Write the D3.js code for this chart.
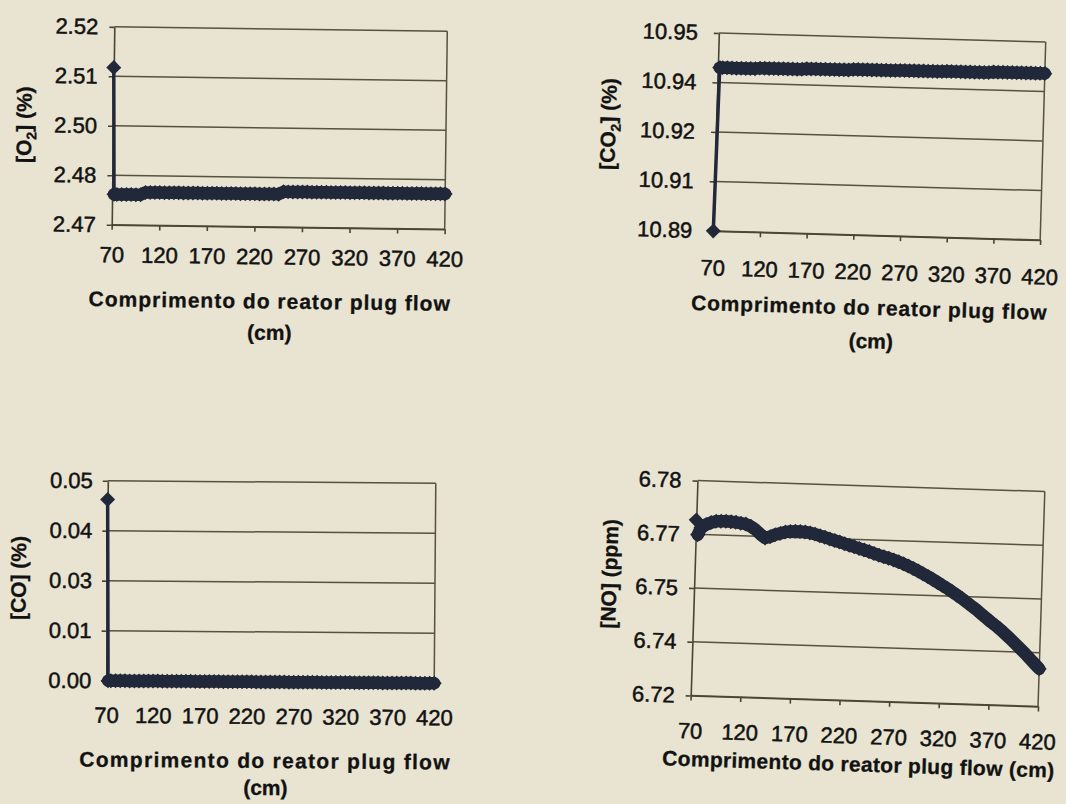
<!DOCTYPE html>
<html><head><meta charset="utf-8">
<script src="https://cdn.jsdelivr.net/npm/d3@7"></script>
<style>
html,body{margin:0;padding:0;background:#e8e4d1;}
svg{display:block;}
</style></head><body>
<svg id="c" width="1066" height="804"></svg>
<script>
// ---------- DATA ----------
const xCm = [70, 72, 75, 80, 85, 90, 95, 100, 105, 110, 115, 120, 125, 130, 135, 140, 145, 150, 155, 160,
  165, 170, 175, 180, 185, 190, 195, 200, 205, 210, 215, 220, 225, 230, 235, 240, 245, 250, 255, 260,
  265, 270, 275, 280, 285, 290, 295, 300, 305, 310, 315, 320, 325, 330, 335, 340, 345, 350, 355, 360,
  365, 370, 375, 380, 385, 390, 395, 400, 405, 410, 415, 420];
const xTicks = [70, 120, 170, 220, 270, 320, 370, 420];

const o2Values = [2.5097, 2.4777, 2.4777, 2.4777, 2.4777, 2.4777, 2.4777, 2.4777,
  2.4783, 2.4783, 2.4783, 2.4783, 2.4783, 2.4783, 2.4783, 2.4783, 2.4783, 2.4783,
  2.4783, 2.4783, 2.4783, 2.4783, 2.4783, 2.4783, 2.4783, 2.4783, 2.4783, 2.4783,
  2.4783, 2.4783, 2.4783, 2.4783, 2.4783, 2.4783, 2.4783, 2.4783, 2.4783,
  2.4789, 2.4789, 2.4789, 2.4789, 2.4789, 2.4789, 2.4789, 2.4789, 2.4789, 2.4789,
  2.4789, 2.4789, 2.4789, 2.4789, 2.4789, 2.4789, 2.4789, 2.4789, 2.4789, 2.4789,
  2.4789, 2.4789, 2.4789, 2.4789, 2.4789, 2.4789, 2.4789, 2.4789, 2.4789, 2.4789,
  2.4789, 2.4789, 2.4789, 2.4789, 2.4789, 2.4789];

const co2Values = [10.89, 10.9395, 10.9395, 10.9395, 10.9395, 10.9395, 10.9395, 10.9395, 10.9395, 10.9395,
  10.9397, 10.9397, 10.9397, 10.9397, 10.9397, 10.9397, 10.9397, 10.9397, 10.9397, 10.9397,
  10.9399, 10.9399, 10.9399, 10.9399, 10.9399, 10.9399, 10.9399, 10.9399, 10.9399, 10.9399,
  10.9401, 10.9401, 10.9401, 10.9401, 10.9401, 10.9401, 10.9401, 10.9401, 10.9401, 10.9401,
  10.9402, 10.9402, 10.9402, 10.9402, 10.9402, 10.9402, 10.9402, 10.9402, 10.9402, 10.9402,
  10.9403, 10.9403, 10.9403, 10.9403, 10.9403, 10.9403, 10.9403, 10.9403, 10.9403, 10.9403,
  10.9405, 10.9405, 10.9405, 10.9405, 10.9405, 10.9405, 10.9405, 10.9405, 10.9405, 10.9405,
  10.9405, 10.9405];

const coValues = [0.0453, 0, 0, 0, 0, 0, 0, 0, 0, 0, 0, 0, 0, 0, 0, 0, 0, 0, 0, 0,
  0, 0, 0, 0, 0, 0, 0, 0, 0, 0, 0, 0, 0, 0, 0, 0, 0, 0, 0, 0,
  0, 0, 0, 0, 0, 0, 0, 0, 0, 0, 0, 0, 0, 0, 0, 0, 0, 0, 0, 0,
  0, 0, 0, 0, 0, 0, 0, 0, 0, 0, 0, 0];

const noValues = [6.7690, 6.7649, 6.7668, 6.7678, 6.7684, 6.7688, 6.7689, 6.7689, 6.7688, 6.7687,
  6.7685, 6.7683, 6.7677, 6.7668, 6.7656, 6.7646, 6.7650, 6.7656, 6.7660, 6.7664,
  6.7666, 6.7667, 6.7667, 6.7666, 6.7664, 6.7661, 6.7657, 6.7653, 6.7649, 6.7645,
  6.7641, 6.7637, 6.7633, 6.7629, 6.7625, 6.7621, 6.7617, 6.7612, 6.7608, 6.7604,
  6.7600, 6.7596, 6.7591, 6.7586, 6.7580, 6.7574, 6.7567, 6.7560, 6.7553, 6.7545,
  6.7537, 6.7529, 6.7521, 6.7512, 6.7503, 6.7494, 6.7484, 6.7474, 6.7464, 6.7453,
  6.7442, 6.7431, 6.7421, 6.7410, 6.7398, 6.7386, 6.7373, 6.7360, 6.7347, 6.7333,
  6.7319, 6.7305];

const o2Ticks = [2.47, 2.4825, 2.495, 2.5075, 2.52];
const o2TickLabels = ["2.47", "2.48", "2.50", "2.51", "2.52"];
const co2Ticks = [10.89, 10.905, 10.92, 10.935, 10.95];
const co2TickLabels = ["10.89", "10.91", "10.92", "10.94", "10.95"];
const coTicks = [0, 0.0125, 0.025, 0.0375, 0.05];
const coTickLabels = ["0.00", "0.01", "0.03", "0.04", "0.05"];
const noTicks = [6.72, 6.735, 6.75, 6.765, 6.78];
const noTickLabels = ["6.72", "6.74", "6.75", "6.77", "6.78"];

const xTitleText = "Comprimento do reator plug flow";
const xTitleUnit = "(cm)";

// ---------- LAYOUT / STYLE ----------
const panels = [
  {values: o2Values, ticks: o2Ticks, labels: o2TickLabels,
   yTitle: [["[O", 0], ["2", 1], ["] (%)", -1]],
   xLines: [xTitleText, xTitleUnit], box: [113, 446, 29, 227], angle: 0.75,
   xBase: 37.5, tBase: [81.6, 113], tDx: [-7.5, -7.5], tSpace: 1.0, yPad: 11, yTitleX: -89, yTitleDy: 0},
  {values: co2Values, ticks: co2Ticks, labels: co2TickLabels,
   yTitle: [["[CO", 0], ["2", 1], ["] (%)", -1]],
   xLines: [xTitleText, xTitleUnit], box: [716, 1043, 37.5, 235.5], angle: 1.6,
   xBase: 44.5, tBase: [79.6, 113], tDx: [-5.5, -3], tSpace: 0.8, yPad: 16, yTitleX: -108, yTitleDy: -5},
  {values: coValues, ticks: coTicks, labels: coTickLabels,
   yTitle: [["[CO] (%)", 0]],
   xLines: [xTitleText, xTitleUnit], box: [107, 435, 482, 682], angle: 0.45,
   xBase: 42, tBase: [86, 113], tDx: [-4.5, -4], tSpace: 1.3, yPad: 10, yTitleX: -88.5, yTitleDy: -2},
  {values: noValues, ticks: noTicks, labels: noTickLabels,
   yTitle: [["[NO] (ppm)", 0]],
   xLines: [xTitleText + " " + xTitleUnit], box: [694, 1041.5, 486, 701], angle: 1.8,
   xBase: 43, tBase: [70.7], tDx: [-4], tSpace: 0.3, yPad: 11, yTitleX: -85, yTitleDy: -11.6}
];

const FONT = "'Liberation Sans', Arial, Helvetica, sans-serif";
const TEXT = "#121212";
const AXIS = "#4a4434";
const GRID = "#585140";
const SERIES = "#212839";

const svg = d3.select("#c");
svg.append("rect").attr("width", 1066).attr("height", 804).attr("fill", "#e8e4d1");

panels.forEach(p => {
  const [x0, x1, y0, y1] = p.box;
  const cx = (x0 + x1) / 2, cy = (y0 + y1) / 2;
  const g = svg.append("g").attr("transform", `rotate(${p.angle},${cx},${cy})`);

  const x = d3.scaleLinear().domain([70, 420]).range([x0, x1]);
  const y = d3.scaleLinear().domain([p.ticks[0], p.ticks[p.ticks.length - 1]]).range([y1, y0]);

  // grid lines
  g.append("g").selectAll("line").data(p.ticks).join("line")
    .attr("x1", x0).attr("x2", x1)
    .attr("y1", d => y(d)).attr("y2", d => y(d))
    .attr("stroke", GRID).attr("stroke-width", 1.5);
  // right border
  g.append("line").attr("x1", x1).attr("x2", x1).attr("y1", y0).attr("y2", y1)
    .attr("stroke", GRID).attr("stroke-width", 1.5);

  // y axis
  const ya = g.append("g").attr("transform", `translate(${x0},0)`)
    .call(d3.axisLeft(y).tickValues(p.ticks).tickFormat((d, i) => p.labels[i])
      .tickSize(5).tickSizeOuter(0).tickPadding(p.yPad));
  // x axis
  const xa = g.append("g").attr("transform", `translate(0,${y1})`)
    .call(d3.axisBottom(x).tickValues(xTicks).tickFormat(d3.format("d"))
      .tickSize(5).tickSizeOuter(0).tickPadding(p.xBase - 20.6));
  [ya, xa].forEach(a => {
    a.select(".domain").attr("stroke", AXIS).attr("stroke-width", 1.6);
    a.selectAll(".tick line").attr("stroke", AXIS).attr("stroke-width", 1.6);
    a.selectAll(".tick text").attr("fill", TEXT)
      .attr("stroke", TEXT).attr("stroke-width", 0.5)
      .style("font-family", FONT).style("font-size", "22px");
  });

  // series
  const pts = xCm.map((xv, i) => [xv, p.values[i]]);
  const line = d3.line().x(d => x(d[0])).y(d => y(d[1]));
  g.append("path").datum(pts)
    .attr("d", line)
    .attr("fill", "none").attr("stroke", SERIES).attr("stroke-width", 3.5);
  // dense band of overlapping markers
  g.append("path").datum(pts.slice(1))
    .attr("d", line)
    .attr("fill", "none").attr("stroke", SERIES).attr("stroke-width", 12.5)
    .attr("stroke-linejoin", "round").attr("stroke-linecap", "round");
  g.append("g").selectAll("path").data(pts).join("path")
    .attr("transform", d => `translate(${x(d[0])},${y(d[1])})`)
    .attr("d", "M0,-7.5L7.5,0L0,7.5L-7.5,0Z")
    .attr("fill", SERIES);

  // x title
  p.xLines.forEach((t, i) => {
    g.append("text").attr("x", cx + p.tDx[i]).attr("y", y1 + p.tBase[i])
      .attr("text-anchor", "middle").attr("fill", TEXT)
      .attr("stroke", TEXT).attr("stroke-width", 0.3)
      .style("font-family", FONT).style("font-weight", "bold").style("font-size", "21px")
      .style("letter-spacing", i === 0 ? p.tSpace + "px" : "0px")
      .text(t);
  });

  // y title
  const yt = g.append("text")
    .attr("transform", `translate(${x0 + p.yTitleX},${cy + p.yTitleDy}) rotate(-90)`)
    .attr("text-anchor", "middle").attr("dy", "0.35em").attr("fill", TEXT)
    .attr("stroke", TEXT).attr("stroke-width", 0.3)
    .style("font-family", FONT).style("font-weight", "bold").style("font-size", "21px");
  p.yTitle.forEach(([t, sub]) => {
    const ts = yt.append("tspan").text(t);
    if (sub === 1) ts.attr("dy", 5).style("font-size", "14px");
    if (sub === -1) ts.attr("dy", -5);
  });
});
</script>
</body></html>
